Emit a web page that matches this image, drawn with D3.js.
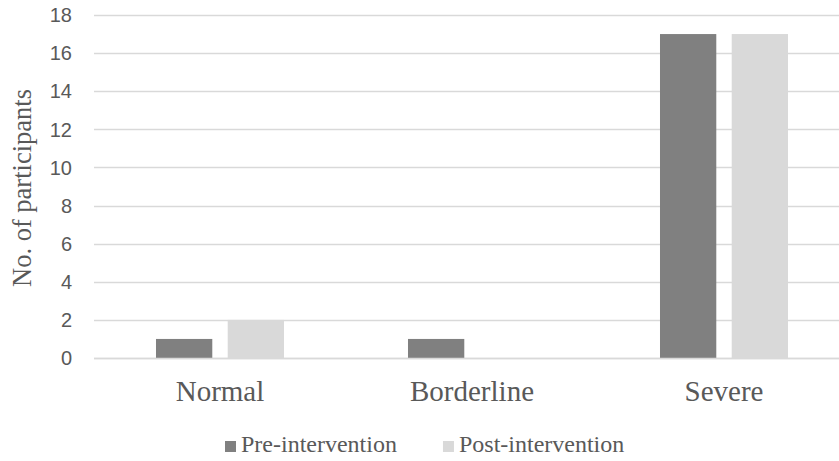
<!DOCTYPE html>
<html>
<head>
<meta charset="utf-8">
<script src="https://cdn.jsdelivr.net/npm/d3@7/dist/d3.min.js"></script>
<style>
  html, body { margin: 0; padding: 0; background: #fff; }
  svg { display: block; }
  .serif { font-family: 'Liberation Serif', 'Times New Roman', Tinos, 'Noto Serif', 'DejaVu Serif', serif; }
  .sans { font-family: 'Liberation Sans', Arial, Helvetica, sans-serif; }
</style>
</head>
<body>
<svg id="chart" width="839" height="461"></svg>
<script>
const categories = ["Normal", "Borderline", "Severe"];
const seriesNames = ["Pre-intervention", "Post-intervention"];
const preValues = [1, 1, 17];
const postValues = [2, 0, 17];
const yTicks = [0, 2, 4, 6, 8, 10, 12, 14, 16, 18];
const colors = ["#808080", "#d9d9d9"];

const svg = d3.select("#chart");
const plot = { left: 94, right: 850, top: 15, bottom: 358 };

const x0 = d3.scaleBand().domain(categories).range([plot.left, plot.right]).padding(0);
const groupPad = x0.bandwidth() * 0.246;
const x1 = d3.scaleBand().domain(seriesNames)
  .range([groupPad, x0.bandwidth() - groupPad]).paddingInner(0.215).paddingOuter(0);
const y = d3.scaleLinear().domain([0, 18]).range([plot.bottom, plot.top]);

// gridlines
svg.append("g").selectAll("line").data(yTicks).join("line")
  .attr("x1", plot.left).attr("x2", plot.right)
  .attr("y1", d => Math.round(y(d)) + 0.5).attr("y2", d => Math.round(y(d)) + 0.5)
  .attr("stroke", "#d9d9d9").attr("stroke-width", 1.3);

// y tick labels
svg.append("g").selectAll("text").data(yTicks).join("text")
  .attr("class", "sans")
  .attr("x", 72).attr("y", d => y(d)).attr("dy", "0.36em")
  .attr("text-anchor", "end")
  .attr("font-size", 20).attr("fill", "#595959")
  .text(d => d);

// bars
const data = categories.map((c, i) => ({ cat: c, vals: [preValues[i], postValues[i]] }));
const groups = svg.append("g").selectAll("g").data(data).join("g")
  .attr("transform", d => `translate(${x0(d.cat)},0)`);
groups.selectAll("rect").data(d => d.vals.map((v, j) => ({ s: seriesNames[j], v, j })))
  .join("rect")
  .attr("x", d => x1(d.s)).attr("width", x1.bandwidth())
  .attr("y", d => y(d.v)).attr("height", d => y(0) - y(d.v))
  .attr("fill", d => colors[d.j]);

// baseline
svg.append("line")
  .attr("x1", plot.left).attr("x2", plot.right)
  .attr("y1", Math.round(y(0)) + 0.5).attr("y2", Math.round(y(0)) + 0.5)
  .attr("stroke", "#d9d9d9").attr("stroke-width", 1.3);

// category labels
svg.append("g").selectAll("text").data(categories).join("text")
  .attr("class", "serif")
  .attr("x", d => x0(d) + x0.bandwidth() / 2).attr("y", 401)
  .attr("text-anchor", "middle")
  .attr("font-size", 29).attr("fill", "#595959")
  .text(d => d);

// y axis title
svg.append("text")
  .attr("class", "serif")
  .attr("transform", `translate(31,188) rotate(-90)`)
  .attr("text-anchor", "middle")
  .attr("font-size", 26.5).attr("fill", "#595959")
  .text("No. of participants");

// legend
const legend = svg.append("g");
const items = legend.selectAll("g").data(seriesNames).join("g");
items.append("rect").attr("width", 11).attr("height", 11).attr("y", -11)
  .attr("fill", (d, i) => colors[i]);
items.append("text").attr("class", "serif").attr("x", 16).attr("y", 0)
  .attr("font-size", 24).attr("fill", "#595959")
  .text(d => d);
let lx = 225;
items.each(function() {
  const g = d3.select(this);
  g.attr("transform", `translate(${lx},452)`);
  lx += this.getBBox().width + 46;
});
</script>
</body>
</html>
